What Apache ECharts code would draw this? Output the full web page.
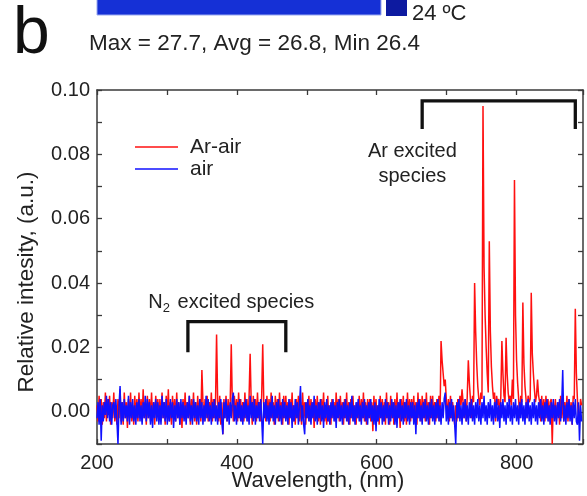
<!DOCTYPE html>
<html><head><meta charset="utf-8">
<script src="https://cdn.jsdelivr.net/npm/echarts@6/dist/echarts.min.js"></script>
<style>html,body{margin:0;padding:0;background:#fff}#c{width:587px;height:496px}</style>
</head><body><div id="c"></div>
<script>
const wavelength = [
200,201.5,203,204.5,206,207.5,209,210.5,212,213.5,215,216.5,218,219.5,221,222.5,224,225.5,227,228.5,
230,231.5,233,234.5,236,237.5,239,240.5,242,243.5,245,246.5,248,249.5,251,252.5,254,255.5,257,258.5,
260,261.5,263,264.5,266,267.5,269,270.5,272,273.5,275,276.5,278,279.5,281,282.5,284,285.5,287,288.5,
290,291.5,293,294.5,296,297.5,299,300.5,302,303.5,305,306.5,308,309.5,311,312.5,314,315.5,317,318.5,
320,321.5,323,324.5,326,327.5,329,330.5,332,333.5,335,336.5,338,339.5,341,342.5,344,345.5,347,348.5,
350,351.5,353,354.5,356,357.5,359,360.5,362,363.5,365,366.5,368,369.5,371,372.5,374,375.5,377,378.5,
380,381.5,383,384.5,386,387.5,389,390.5,392,393.5,395,396.5,398,399.5,401,402.5,404,405.5,407,408.5,
410,411.5,413,414.5,416,417.5,419,420.5,422,423.5,425,426.5,428,429.5,431,432.5,434,435.5,437,438.5,
440,441.5,443,444.5,446,447.5,449,450.5,452,453.5,455,456.5,458,459.5,461,462.5,464,465.5,467,468.5,
470,471.5,473,474.5,476,477.5,479,480.5,482,483.5,485,486.5,488,489.5,491,492.5,494,495.5,497,498.5,
500,501.5,503,504.5,506,507.5,509,510.5,512,513.5,515,516.5,518,519.5,521,522.5,524,525.5,527,528.5,
530,531.5,533,534.5,536,537.5,539,540.5,542,543.5,545,546.5,548,549.5,551,552.5,554,555.5,557,558.5,
560,561.5,563,564.5,566,567.5,569,570.5,572,573.5,575,576.5,578,579.5,581,582.5,584,585.5,587,588.5,
590,591.5,593,594.5,596,597.5,599,600.5,602,603.5,605,606.5,608,609.5,611,612.5,614,615.5,617,618.5,
620,621.5,623,624.5,626,627.5,629,630.5,632,633.5,635,636.5,638,639.5,641,642.5,644,645.5,647,648.5,
650,651.5,653,654.5,656,657.5,659,660.5,662,663.5,665,666.5,668,669.5,671,672.5,674,675.5,677,678.5,
680,681.5,683,684.5,686,687.5,689,690.5,692,693.5,695,696.5,698,699.5,701,702.5,704,705.5,707,708.5,
710,711.5,713,714.5,716,717.5,719,720.5,722,723.5,725,726.5,728,729.5,731,732.5,734,735.5,737,738.5,
740,741.5,743,744.5,746,747.5,749,750.5,752,753.5,755,756.5,758,759.5,761,762.5,764,765.5,767,768.5,
770,771.5,773,774.5,776,777.5,779,780.5,782,783.5,785,786.5,788,789.5,791,792.5,794,795.5,797,798.5,
800,801.5,803,804.5,806,807.5,809,810.5,812,813.5,815,816.5,818,819.5,821,822.5,824,825.5,827,828.5,
830,831.5,833,834.5,836,837.5,839,840.5,842,843.5,845,846.5,848,849.5,851,852.5,854,855.5,857,858.5,
860,861.5,863,864.5,866,867.5,869,870.5,872,873.5,875,876.5,878,879.5,881,882.5,884,885.5,887,888.5,
890,891.5,893];

const arAir = [
.002,-.003,.005,-.002,.004,-.004,.003,-.002,.006,-.003,.004,-.001,.005,-.004,.003,-.002,.006,-.003,.002,-.004,
.004,-.002,.007,-.003,.003,-.004,.006,-.002,.003,-.005,.004,-.002,.006,-.003,.002,-.004,.005,-.002,.004,-.003,
.006,-.002,.004,-.003,.007,-.002,.003,-.004,.005,-.002,.004,-.003,.006,-.002,.003,-.004,.005,-.001,.004,-.003,
.004,-.003,.006,-.002,.003,-.004,.005,-.002,.007,-.003,.003,-.004,.005,-.002,.004,-.003,.006,-.002,.003,-.004,
.002,-.005,.004,-.002,.006,-.003,.003,-.002,.005,-.004,.004,-.002,.006,-.003,.003,-.004,.005,-.002,.004,-.003,
.013,.003,-.003,.004,-.002,.005,-.003,.003,-.002,.006,-.003,.004,-.002,.003,.024,.004,-.003,.005,-.004,.003,
-.007,.004,-.002,.005,-.003,.004,-.002,.003,.021,.003,-.003,.005,-.002,.004,-.003,.006,-.002,.004,-.003,.003,
-.003,.006,-.002,.004,-.003,.005,.018,.003,-.004,.005,-.002,.004,-.003,.006,-.002,.003,-.003,.005,.021,.003,
.003,-.003,.005,-.002,.004,-.003,.006,-.002,.003,-.004,.005,-.002,.004,-.003,.006,-.001,.003,-.004,.005,-.002,
.005,-.002,.003,-.004,.004,-.002,.006,-.003,.002,-.004,.004,-.002,.005,-.003,.003,-.004,.006,-.002,.003,-.004,
.003,-.002,.005,-.003,.004,-.002,.003,-.005,.004,-.002,.005,-.003,.003,-.004,.004,-.002,.006,-.003,.002,-.004,
.005,-.003,.002,-.004,.004,-.002,.003,-.003,.006,-.002,.004,-.003,.005,-.002,.003,-.004,.004,-.002,.006,-.003,
.003,-.004,.004,-.002,.005,-.003,.002,-.004,.003,-.002,.005,-.003,.004,-.002,.006,-.003,.003,-.004,.004,-.002,
.004,-.003,.003,-.006,.005,-.002,.004,-.003,.002,-.004,.005,-.002,.004,-.003,.003,-.004,.006,-.002,.003,-.004,
.005,-.002,.003,-.004,.004,-.003,.006,-.002,.003,-.005,.004,-.002,.005,-.003,.003,-.004,.006,-.002,.004,-.003,
.004,-.002,.005,-.003,.003,-.004,.006,-.002,.004,-.003,.005,-.002,.004,-.003,.006,-.002,.003,-.004,.005,-.002,
.005,-.002,.003,-.003,.004,-.002,.005,-.003,.022,.016,.012,.008,.010,.004,-.002,.004,-.003,.005,-.002,.003,
.003,-.004,.002,-.003,.004,-.002,.005,.002,.007,.003,-.002,.004,-.003,.005,.016,.009,.004,-.002,.005,.003,
.040,.025,.015,.008,.004,.002,.006,.004,.095,.045,.030,.020,.012,.006,.053,.025,.014,.008,.004,.006,
-.003,.005,.002,.004,-.002,.005,.022,.012,.005,.003,.023,.012,.006,.003,.005,.002,.010,.004,.072,.030,
.016,.009,.004,-.002,.005,.003,.034,.015,.008,.004,-.002,.005,.003,.004,.037,.018,.012,.007,.003,.005,
.010,.005,.003,-.003,.005,-.002,.004,-.003,.005,-.002,.004,-.003,.003,.004,-.010,.003,-.002,.004,-.003,.002,
.003,-.004,.005,-.002,.004,-.003,.003,-.002,.005,-.003,.004,-.002,.003,-.004,.005,.004,.032,.012,.004,-.002,
-.003,.004,.002];

const air = [
-.002,.003,-.004,.004,-.009,.002,-.003,.003,-.001,.005,-.002,.004,-.003,.003,-.004,.002,.003,-.002,.004,-.003,
-.010,.002,.008,-.004,.003,-.003,.004,-.002,.002,-.003,.005,-.004,.003,-.002,.004,-.003,.002,-.004,.003,-.002,
.004,-.003,.002,-.004,.003,-.002,.005,-.003,.004,-.002,.003,-.004,.002,-.005,.003,-.002,.004,-.003,.003,-.004,
.002,-.004,.005,-.002,.003,-.003,.004,-.004,.002,-.003,.004,-.002,.003,-.005,.002,-.003,.004,-.002,.003,-.004,
.004,-.002,.003,-.003,.002,-.004,.003,-.002,.005,-.003,.002,-.004,.004,-.002,.003,-.003,.002,-.004,.004,-.002,
.003,-.004,.002,-.003,.005,-.002,.004,-.003,.002,-.004,.003,-.002,.004,-.003,.002,-.004,.003,-.002,.004,-.003,
-.007,.003,-.002,.004,-.003,.002,-.004,.003,-.002,.004,.006,-.003,.002,-.004,.003,-.002,.004,-.003,.002,-.004,
.003,-.002,.004,-.003,.002,-.004,.005,-.002,.003,-.003,.004,-.004,.002,-.002,.003,-.003,.004,-.002,-.010,.003,
-.002,.004,-.003,.002,-.004,.003,-.002,.005,-.003,.002,-.004,.003,-.002,.004,-.003,.002,-.004,.004,-.002,.003,
-.003,.002,-.004,.004,-.002,.003,-.005,.002,-.003,.004,-.002,.003,-.004,.002,.008,-.003,.002,-.004,-.007,.003,
-.002,.004,-.003,.002,-.004,.003,-.002,.005,-.003,.002,-.004,.003,-.002,.004,-.003,.002,-.005,.003,-.002,.004,
-.003,.002,-.004,.003,-.002,.004,-.003,.002,-.005,.003,-.002,.004,-.003,.002,-.004,.003,-.002,.004,-.003,.002,
-.004,.003,-.002,.005,-.003,.002,-.004,.003,-.002,.004,-.003,.002,-.004,.003,-.002,.004,-.003,.002,-.004,.003,
-.002,.004,-.003,.002,-.004,.003,-.006,.002,-.003,.004,-.002,.003,-.004,.002,-.003,.004,-.002,.003,-.004,.002,
-.003,.004,-.002,.003,-.004,.002,-.005,.003,-.002,.004,-.003,.002,-.004,.003,-.002,.004,-.003,.002,-.004,.003,
-.002,.003,-.004,.002,-.007,.003,-.002,.004,-.003,.002,-.004,.003,-.002,.004,-.003,.002,-.004,.003,-.002,.004,
-.003,.002,-.004,.003,-.002,.004,-.003,.002,-.004,.003,-.002,.004,.006,-.003,.002,-.004,.003,-.002,.004,-.003,
.002,-.004,-.010,.003,-.002,.004,-.003,.002,-.004,.003,-.002,.004,-.003,.002,-.004,.003,-.002,.004,-.003,.002,
-.004,.003,-.002,.004,-.003,.002,-.004,.003,-.002,.005,-.003,.002,-.004,.003,-.002,.004,-.003,.002,-.004,.003,
-.002,.004,-.003,.002,-.005,.003,-.002,.004,-.003,.002,-.004,.003,-.002,.004,-.003,.002,-.004,.003,-.002,.004,
-.003,.002,-.004,.003,-.002,.004,-.003,.002,-.004,.003,-.002,.004,-.003,.002,-.004,.003,-.002,.004,-.003,.002,
-.004,.003,-.002,.004,-.003,.002,-.004,.003,-.002,.004,-.003,.002,-.004,.003,-.002,.004,-.003,.002,-.004,.003,
-.002,.004,-.003,.002,.013,-.003,.002,-.004,.003,-.002,.004,-.003,.002,-.004,.003,-.002,.004,-.003,-.004,.003,
-.009,.002,-.003];

const seriesNames = ['Ar-air', 'air'];
const xTickLabels = [200, 400, 600, 800];
const yTickLabels = [0.00, 0.02, 0.04, 0.06, 0.08, 0.10];
const n2Bracket = [[330, 0.019], [330, 0.028], [470, 0.028], [470, 0.019]];
const arBracket = [[665, 0.0884], [665, 0.0966], [884, 0.0966], [884, 0.0884]];
const n2Label = [392, 0.034];
const arLabel = [651, 0.0769];

const FONT = '"Liberation Sans", Arial, Helvetica, sans-serif';
const TXT = '#222';
const AX = '#3a3a3a';

function pairs(xs, ys) { return xs.map((x, i) => [x, ys[i]]); }
const near = (arr, v) => arr.some(t => Math.abs(t - v) < 1e-6);

const chart = echarts.init(document.getElementById('c'), null, {renderer: 'canvas'});

const axisCommon = {
  axisLine: {show: true, onZero: false, lineStyle: {color: AX, width: 1.5}},
  axisTick: {show: true, inside: true, length: 5, lineStyle: {color: AX, width: 1.3}},
  splitLine: {show: false}
};

chart.setOption({
  animation: false,
  backgroundColor: '#fff',
  grid: {left: 97, right: 4, top: 90, bottom: 52, containLabel: false},
  legend: {
    data: seriesNames,
    orient: 'vertical',
    left: 130, top: 131,
    icon: 'rect',
    itemWidth: 43, itemHeight: 1.5, itemGap: 0,
    textStyle: {fontFamily: FONT, fontSize: 21, color: TXT, lineHeight: 22, padding: [0, 0, 0, 7]}
  },
  xAxis: [
    Object.assign({}, axisCommon, {
      type: 'value', min: 200, max: 895, interval: 100, position: 'bottom',
      axisLabel: {fontFamily: FONT, fontSize: 20, color: TXT, margin: 9,
        formatter: v => near(xTickLabels, v) ? String(v) : ''}
    }),
    Object.assign({}, axisCommon, {
      type: 'value', min: 200, max: 895, interval: 100, position: 'top',
      axisLabel: {show: false}
    })
  ],
  yAxis: [
    Object.assign({}, axisCommon, {
      type: 'value', min: -0.01, max: 0.10, interval: 0.01, position: 'left',
      axisLabel: {fontFamily: FONT, fontSize: 20, color: TXT, margin: 7,
        formatter: v => near(yTickLabels, v) ? v.toFixed(2) : ''}
    }),
    Object.assign({}, axisCommon, {
      type: 'value', min: -0.01, max: 0.10, interval: 0.01, position: 'right',
      axisLabel: {show: false}
    })
  ],
  series: [
    {name: seriesNames[0], type: 'line', data: pairs(wavelength, arAir), showSymbol: false, symbol: 'none',
      lineStyle: {color: '#ff1010', width: 1.5}, itemStyle: {color: '#ff1010'}, sampling: null, z: 2},
    {name: seriesNames[1], type: 'line', data: pairs(wavelength, air), showSymbol: false, symbol: 'none',
      lineStyle: {color: '#1010ff', width: 1.5}, itemStyle: {color: '#1010ff'}, sampling: null, z: 3},
    {name: 'n2b', type: 'line', data: n2Bracket, symbol: 'none', silent: true, z: 4,
      lineStyle: {color: '#111', width: 3.3, cap: 'square', join: 'miter'},
      markPoint: {symbol: 'circle', symbolSize: 0, silent: true,
        data: [{coord: n2Label, value: 0,
          label: {show: true, position: 'inside', formatter: 'N{s|2} excited species',
            fontFamily: FONT, fontSize: 20, color: TXT,
            rich: {s: {fontFamily: FONT, fontSize: 13, color: TXT, verticalAlign: 'bottom', padding: [12, 2, 0, 0]}}}}]}},
    {name: 'arb', type: 'line', data: arBracket, symbol: 'none', silent: true, z: 4,
      lineStyle: {color: '#111', width: 3.3, cap: 'square', join: 'miter'},
      markPoint: {symbol: 'circle', symbolSize: 0, silent: true,
        data: [{coord: arLabel, value: 0,
          label: {show: true, position: 'inside', formatter: 'Ar excited\nspecies', align: 'center',
            fontFamily: FONT, fontSize: 20, color: TXT, lineHeight: 25}}]}}
  ],
  graphic: [
    {type: 'rect', shape: {x: 97, y: -2, width: 284, height: 17}, style: {fill: '#1530d6', stroke: '#9aa8f0', lineWidth: 1}},
    {type: 'rect', shape: {x: 386, y: -2, width: 21, height: 18}, style: {fill: '#0d1aa0'}},
    {type: 'text', style: {x: 412, y: 25, text: '24 ºC', font: '22px ' + FONT, fill: TXT, textVerticalAlign: 'bottom'}},
    {type: 'text', style: {x: 13, y: 68, text: 'b', font: '66px ' + FONT, fill: '#111', textVerticalAlign: 'bottom'}},
    {type: 'text', style: {x: 89, y: 55, text: 'Max = 27.7, Avg = 26.8, Min 26.4', font: '22.5px ' + FONT, fill: TXT, textVerticalAlign: 'bottom'}},
    {type: 'text', style: {x: 318, y: 481, text: 'Wavelength, (nm)', font: '22px ' + FONT, fill: TXT, textAlign: 'center', textVerticalAlign: 'middle'}},
    {type: 'text', rotation: Math.PI / 2, x: 27, y: 282,
      style: {x: 0, y: 0, text: 'Relative intesity, (a.u.)', font: '22.5px ' + FONT, fill: TXT, textAlign: 'center', textVerticalAlign: 'middle'}}
  ]
});
</script>
</body></html>
